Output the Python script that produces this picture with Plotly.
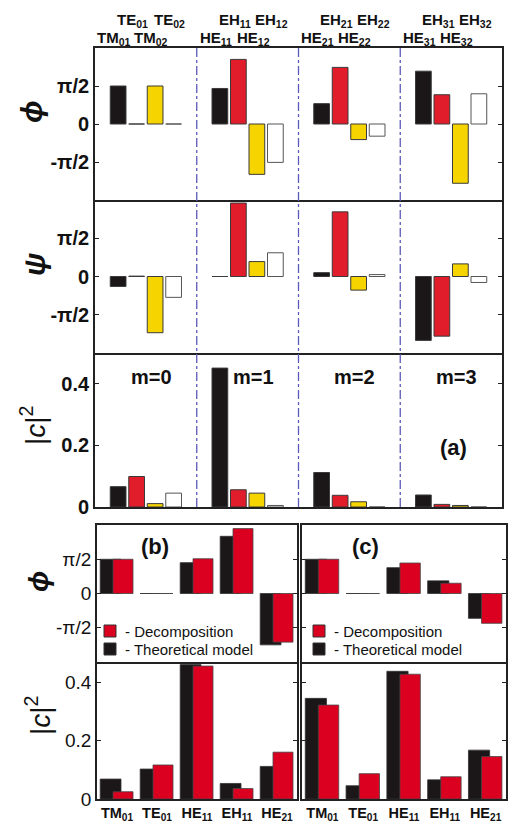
import math
import plotly.graph_objects as go

W, H = 510, 821
PI2 = math.pi / 2

# ---------------- panel (a) data ----------------
groups = ["m=0", "m=1", "m=2", "m=3"]
black_names = ["TM<sub>01</sub>", "HE<sub>11</sub>", "HE<sub>21</sub>", "HE<sub>31</sub>"]
red_names = ["TE<sub>01</sub>", "EH<sub>11</sub>", "EH<sub>21</sub>", "EH<sub>31</sub>"]
yellow_names = ["TM<sub>02</sub>", "HE<sub>12</sub>", "HE<sub>22</sub>", "HE<sub>32</sub>"]
white_names = ["TE<sub>02</sub>", "EH<sub>12</sub>", "EH<sub>22</sub>", "EH<sub>32</sub>"]

# phases in units of pi/2
phi_black = [1.0, 0.935, 0.535, 1.39]
phi_red = [0.0, 1.70, 1.49, 0.77]
phi_yellow = [1.0, -1.325, -0.41, -1.56]
phi_white = [0.0, -1.01, -0.32, 0.795]

psi_black = [-0.26, 0.0, 0.10, -1.67]
psi_red = [0.01, 1.92, 1.69, -1.56]
psi_yellow = [-1.47, 0.39, -0.356, 0.33]
psi_white = [-0.545, 0.62, 0.05, -0.156]

c2_black = [0.066, 0.451, 0.112, 0.039]
c2_red = [0.099, 0.056, 0.038, 0.0085]
c2_yellow = [0.011, 0.045, 0.017, 0.005]
c2_white = [0.045, 0.005, 0.0, 0.0]

# ---------------- panels (b), (c) data ----------------
bc_modes = ["TM<sub>01</sub>", "TE<sub>01</sub>", "HE<sub>11</sub>", "EH<sub>11</sub>", "HE<sub>21</sub>"]
b_phi_theory = [1.0, 0.0, 0.90, 1.67, -1.50]
b_phi_decomp = [1.0, 0.0, 1.015, 1.895, -1.42]
c_phi_theory = [1.0, 0.0, 0.754, 0.37, -0.725]
c_phi_decomp = [1.0, 0.0, 0.89, 0.30, -0.87]
b_c2_theory = [0.0686, 0.103, 0.462, 0.0535, 0.112]
b_c2_decomp = [0.025, 0.117, 0.457, 0.036, 0.161]
c_c2_theory = [0.346, 0.0456, 0.439, 0.066, 0.168]
c_c2_decomp = [0.323, 0.087, 0.429, 0.0765, 0.146]
legend_labels = ["- Decomposition", "- Theoretical model"]

# ---------------- styling ----------------
FONT = "Liberation Sans, Arial, Helvetica, sans-serif"
BLACK = "#1b1718"
RED_A = "#e11d2b"
YELLOW = "#f6d400"
WHITE = "#ffffff"
RED_B = "#dc0020"
EDGE = "#3a3a3a"
AXC = "#222222"
TXT = "#111111"
GROUP_W = 5.5


def px(x):
    return x / W


def py(y):
    return 1 - y / H


def pos(g, k):
    return g * GROUP_W + 1.25 + k


fig = go.Figure()

series_a = [
    (phi_black, psi_black, c2_black, BLACK, EDGE),
    (phi_red, psi_red, c2_red, RED_A, EDGE),
    (phi_yellow, psi_yellow, c2_yellow, YELLOW, EDGE),
    (phi_white, psi_white, c2_white, WHITE, "#555555"),
]
for k, (ph, ps, c2, col, edge) in enumerate(series_a):
    xs = [pos(g, k) for g in range(len(groups))]
    for vals, xa, ya, scale in [(ph, "x", "y", PI2), (ps, "x2", "y2", PI2), (c2, "x3", "y3", 1.0)]:
        fig.add_trace(go.Bar(
            x=xs, y=[v * scale for v in vals], width=0.85,
            marker=dict(color=col, line=dict(color=edge, width=1)),
            xaxis=xa, yaxis=ya, showlegend=False,
        ))

# bottom panels
cat_x = list(range(len(bc_modes)))
for (th, de, xa, ya, scale) in [
    (b_phi_theory, b_phi_decomp, "x4", "y4", PI2),
    (b_c2_theory, b_c2_decomp, "x5", "y5", 1.0),
    (c_phi_theory, c_phi_decomp, "x6", "y6", PI2),
    (c_c2_theory, c_c2_decomp, "x7", "y7", 1.0),
]:
    fig.add_trace(go.Bar(
        x=cat_x, y=[v * scale for v in th], width=0.52, offset=-0.42,
        marker=dict(color=BLACK, line=dict(color="#333333", width=0.8)),
        xaxis=xa, yaxis=ya, name=legend_labels[1], showlegend=False,
    ))
    fig.add_trace(go.Bar(
        x=cat_x, y=[v * scale for v in de], width=0.5, offset=-0.1,
        marker=dict(color=RED_B, line=dict(color="#444444", width=0.8)),
        xaxis=xa, yaxis=ya, name=legend_labels[0], showlegend=False,
    ))

# ---------------- axes ----------------
LW = 1.8
common = dict(showline=True, linecolor=AXC, linewidth=LW, showgrid=False, zeroline=False)
xa_dom = [px(95), px(502)]
phi_ticks = dict(tickvals=[-PI2, 0, PI2], ticktext=["-π/2", "0", "π/2"])
bold_tick = dict(family=FONT, size=20, color=TXT, weight="bold")
reg_tick = dict(family=FONT, size=19, color=TXT)

layout = dict(
    width=W, height=H, margin=dict(l=0, r=0, t=0, b=0, autoexpand=False),
    paper_bgcolor="white", plot_bgcolor="white", showlegend=False,
    barmode="overlay", font=dict(family=FONT, color=TXT),
)
for i, (y0, y1) in enumerate([(200, 48), (353, 200), (507, 353)], start=1):
    sx = "" if i == 1 else str(i)
    layout["xaxis" + sx] = dict(domain=xa_dom, range=[0, 22], anchor="y" + sx,
                                showticklabels=False, ticks="", mirror=(i == 1), **common)
    yd = dict(domain=[py(y0), py(y1)], anchor="x" + sx, ticks="inside", mirror="ticks",
              ticklen=4, tickcolor=AXC, tickfont=bold_tick, **common)
    if i < 3:
        yd.update(range=[-math.pi, math.pi], **phi_ticks)
    else:
        yd.update(range=[0, 0.5], tickvals=[0, 0.2, 0.4], ticktext=["0", "0.2", "0.4"])
    layout["yaxis" + sx] = yd

bc_x = {"b": [px(97), px(297)], "c": [px(302), px(506)]}
for idx, (panel, kind) in zip(range(4, 8), [("b", "phi"), ("b", "c2"), ("c", "phi"), ("c", "c2")]):
    sx = str(idx)
    ydom = [py(662), py(525)] if kind == "phi" else [py(799), py(662)]
    xd = dict(domain=bc_x[panel], range=[-0.5, 4.5], anchor="y" + sx, ticks="",
              mirror=(kind == "phi"), **common)
    if kind == "c2":
        xd.update(tickvals=cat_x, ticktext=["<b>" + m + "</b>" for m in bc_modes],
                  tickfont=dict(family=FONT, size=14.5, color=TXT))
    else:
        xd.update(showticklabels=False)
    layout["xaxis" + sx] = xd
    yd = dict(domain=ydom, anchor="x" + sx, ticks="inside", mirror="ticks", ticklen=4,
              tickcolor=AXC, tickfont=reg_tick, showticklabels=(panel == "b"), **common)
    if kind == "phi":
        yd.update(range=[-math.pi, math.pi], **phi_ticks)
    else:
        yd.update(range=[0, 0.471], tickvals=[0, 0.2, 0.4], ticktext=["0", "0.2", "0.4"])
    layout["yaxis" + sx] = yd

fig.update_layout(**layout)

# ---------------- group separators ----------------
for g in range(1, len(groups)):
    fig.add_shape(type="line", xref="x", yref="paper", x0=g * GROUP_W, x1=g * GROUP_W,
                  y0=py(507), y1=py(48), line=dict(color="#5a5ab8", width=1.3, dash="dashdot"))

# ---------------- annotations ----------------
ann = []


def note(text, x, y, size, xref="paper", angle=0, xanchor="center"):
    ann.append(dict(x=x, y=y, xref=xref, yref="paper", showarrow=False, text=text,
                    textangle=angle, xanchor=xanchor, yanchor="middle",
                    font=dict(family=FONT, size=size, color=TXT)))


for g in range(len(groups)):
    for k, names in enumerate([black_names, red_names, yellow_names, white_names]):
        row_y = py(38) if k % 2 == 0 else py(20)
        note("<b>" + names[g] + "</b>", pos(g, k) - 0.2, row_y, 15, xref="x")
    note("<b>" + groups[g] + "</b>", g * GROUP_W + 3.05, py(377), 20, xref="x")

note("<b>(a)</b>", px(453), py(447), 22)
note("<b>(b)</b>", px(155), py(546), 22)
note("<b>(c)</b>", px(365), py(546), 22)

ytitles = [
    ("<b><i>ϕ</i></b>", 31, 112, 30),
    ("<b><i>ψ</i></b>", 34, 265, 30),
    ("|<i>c</i>|<sup>2</sup>", 33, 426, 28),
    ("<b><i>ϕ</i></b>", 38, 582, 28),
    ("|<i>c</i>|<sup>2</sup>", 38, 716, 28),
]
for txt, x, y, s in ytitles:
    note(txt, px(x), py(y), s, angle=-90)

# legends of (b) and (c): coloured squares plus labels
for x0 in (104, 313):
    for j, (col, yc) in enumerate([(RED_B, 631), (BLACK, 649)]):
        fig.add_shape(type="rect", xref="paper", yref="paper",
                      x0=px(x0), x1=px(x0 + 12), y0=py(yc + 6), y1=py(yc - 6),
                      fillcolor=col, line=dict(color="#333333", width=1))
        note(legend_labels[j], px(x0 + 19), py(yc), 15, xanchor="left")

fig.update_layout(annotations=ann)
fig.write_html("out.html", config={"displayModeBar": False},
               post_script="document.body.style.margin='0px';")
